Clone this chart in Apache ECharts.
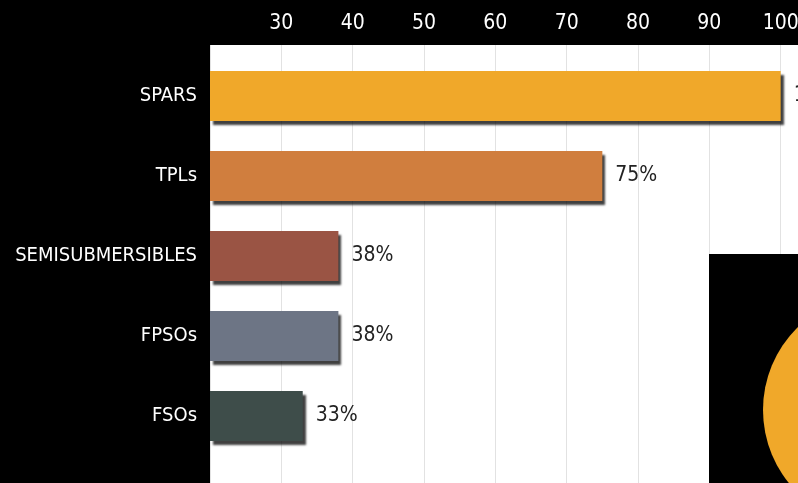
<!DOCTYPE html>
<html>
<head>
<meta charset="utf-8">
<script src="https://cdn.jsdelivr.net/npm/echarts@6/dist/echarts.min.js"></script>
<style>
  html, body { margin: 0; padding: 0; background: #000; }
  #chart { width: 798px; height: 483px; }
</style>
</head>
<body>
<div id="chart"></div>
<script>
// data
const categories = ['SPARS', 'TPLs', 'SEMISUBMERSIBLES', 'FPSOs', 'FSOs'];
const shares = [100, 75, 38, 38, 33];
const barColors = ['#F0A82A', '#D07E3E', '#9A5444', '#6D7585', '#3E4D4A'];
const tickMin = 20;
const tickMax = 110;
const tickStep = 10;

const font = "'Liberation Sans Narrow', 'DejaVu Sans Condensed', Roboto, sans-serif";

const chart = echarts.init(document.getElementById('chart'));

const option = {
  backgroundColor: '#000',
  animation: false,
  graphic: [
    // white plot background
    { type: 'rect', z: -10, shape: { x: 210, y: 45, width: 600, height: 450 }, style: { fill: '#fff' } },
    // black inset with part of a pie in the bottom right corner
    { type: 'rect', z: 100, shape: { x: 709, y: 254, width: 100, height: 240 }, style: { fill: '#000' } },
    { type: 'circle', z: 101, shape: { cx: 879, cy: 410, r: 116 }, style: { fill: '#F0A82A' } }
  ],
  grid: [
    { left: 210, top: 56, width: 642, height: 400, outerBoundsMode: 'none' },
    // second grid only for the full-height grid lines
    { left: 210, top: 45, width: 642, height: 450, outerBoundsMode: 'none' }
  ],
  xAxis: [
    {
      gridIndex: 0,
      type: 'value',
      position: 'top',
      min: tickMin,
      max: tickMax,
      interval: tickStep,
      axisLine: { show: false },
      axisTick: { show: false },
      splitLine: { show: false },
      axisLabel: {
        showMinLabel: false,
        color: '#fff',
        fontFamily: font,
        fontSize: 21,
        margin: 22
      }
    },
    {
      gridIndex: 1,
      type: 'value',
      min: tickMin,
      max: tickMax,
      interval: tickStep,
      axisLine: { show: false },
      axisTick: { show: false },
      axisLabel: { show: false },
      splitLine: { show: true, lineStyle: { color: '#e2e2e2', width: 1 } }
    }
  ],
  yAxis: [
    {
      gridIndex: 0,
      type: 'category',
      inverse: true,
      data: categories,
      axisLine: { show: false },
      axisTick: { show: false },
      axisLabel: {
        color: '#fff',
        fontFamily: font,
        fontSize: 20,
        margin: 13
      }
    },
    { gridIndex: 1, type: 'value', show: false, min: 0, max: 1 }
  ],
  series: [
    {
      type: 'bar',
      xAxisIndex: 0,
      yAxisIndex: 0,
      barWidth: 50,
      data: shares.map((v, i) => ({
        value: v,
        itemStyle: { color: barColors[i] }
      })),
      itemStyle: {
        shadowColor: 'rgba(0,0,0,0.75)',
        shadowBlur: 2,
        shadowOffsetX: 3,
        shadowOffsetY: 4
      },
      label: {
        show: true,
        position: 'right',
        distance: 13,
        formatter: '{c}%',
        color: '#222',
        fontFamily: font,
        fontSize: 21
      }
    }
  ]
};

chart.setOption(option);
</script>
</body>
</html>
